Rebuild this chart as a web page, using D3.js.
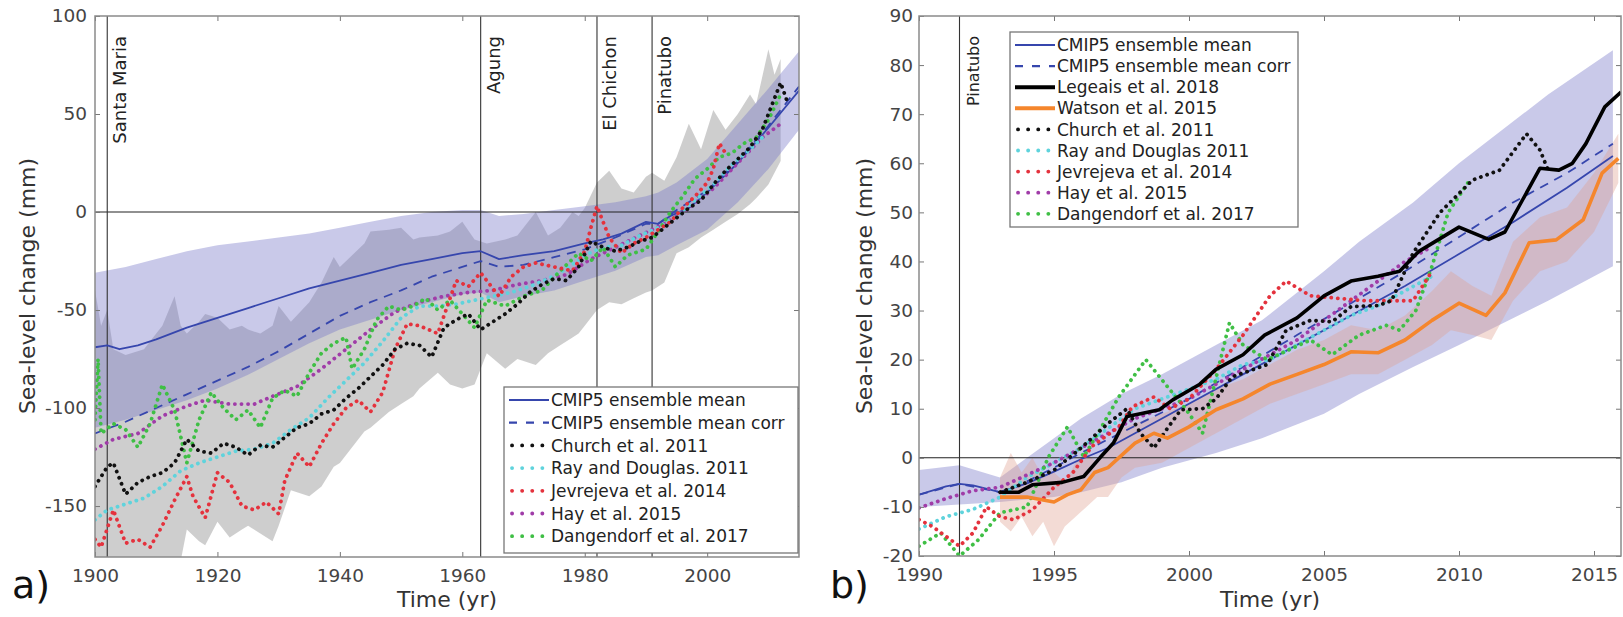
<!DOCTYPE html>
<html>
<head>
<meta charset="utf-8">
<script src="https://cdn.jsdelivr.net/npm/d3@7"></script>
<style>
  body { margin: 0; background: #fff; }
  text { font-family: "DejaVu Sans", sans-serif; }
</style>
</head>
<body>
<script>
// ---- panel a data: [year, mm] ----
const cmipMeanA = [[1900,-69],[1902,-68],[1904,-70],[1907,-68],[1910,-65],[1915,-59],[1920,-54],[1925,-49],[1930,-44],[1935,-39],[1940,-35],[1945,-31],[1950,-27],[1955,-24],[1960,-21],[1963,-20],[1966,-24],[1970,-22],[1975,-20],[1980,-16],[1983,-14],[1986,-11],[1990,-5],[1992,-6],[1994,-2],[1997,2],[2000,10],[2005,25],[2010,43],[2015,62]];
const cmipCorrA = [[1900,-113],[1905,-107],[1910,-100],[1915,-93],[1920,-86],[1925,-79],[1930,-71],[1935,-62],[1940,-53],[1945,-46],[1950,-40],[1955,-33],[1960,-28],[1963,-25],[1966,-28],[1970,-27],[1975,-23],[1980,-19],[1985,-13],[1990,-6],[1992,-6],[1995,1],[2000,11],[2005,26],[2010,44],[2015,64]];
// [year, lower, upper]
const cmipBandA = [[1900,-110,-31],[1905,-106,-28],[1910,-101,-24],[1915,-96,-20],[1920,-90,-17],[1925,-83,-15],[1930,-75,-13],[1935,-67,-11],[1940,-60,-8],[1945,-55,-5],[1950,-50,-2],[1955,-46,0],[1960,-42,1],[1963,-41,1],[1966,-46,-2],[1970,-43,-1],[1975,-40,1],[1980,-35,3],[1985,-30,5],[1990,-23,8],[1992,-22,10],[1995,-17,15],[2000,-9,27],[2005,5,45],[2010,22,63],[2015,42,82]];
const obsBandA = [[1900,-190,-40],[1901,-190,-58],[1902,-190,-50],[1903,-190,-70],[1905,-188,-73],[1908,-185,-70],[1910,-182,-62],[1911,-182,-58],[1913,-185,-43],[1914,-178,-58],[1915,-162,-62],[1917,-168,-56],[1918,-170,-52],[1920,-158,-54],[1922,-166,-60],[1924,-162,-58],[1925,-160,-60],[1927,-164,-62],[1929,-168,-58],[1930,-160,-48],[1932,-142,-56],[1935,-145,-46],[1937,-140,-36],[1939,-130,-23],[1940,-128,-28],[1942,-120,-22],[1944,-112,-16],[1945,-110,-10],[1948,-102,-9],[1950,-98,-8],[1952,-94,-14],[1953,-90,-13],[1956,-82,-12],[1958,-88,-10],[1960,-90,-5],[1962,-88,-14],[1964,-72,-16],[1967,-80,-14],[1969,-75,-12],[1972,-78,0],[1974,-72,-12],[1976,-68,-8],[1978,-64,0],[1979,-62,-2],[1980,-58,2],[1982,-50,15],[1984,-46,21],[1986,-47,12],[1988,-44,10],[1990,-41,18],[1991,-40,20],[1993,-36,16],[1995,-21,28],[1997,-18,45],[1999,-13,32],[2001,-9,52],[2003,-5,42],[2005,-1,50],[2007,4,60],[2008,7,55],[2010,14,83],[2011,20,70],[2012,26,78]];
const churchA = [[1900,-140],[1902,-130],[1903,-128],[1905,-144],[1907,-138],[1909,-135],[1911,-133],[1913,-128],[1915,-116],[1917,-122],[1919,-123],[1921,-118],[1923,-120],[1925,-124],[1927,-119],[1929,-120],[1931,-115],[1933,-110],[1935,-108],[1937,-103],[1939,-101],[1941,-95],[1943,-90],[1945,-84],[1947,-78],[1949,-70],[1951,-67],[1953,-68],[1955,-74],[1957,-59],[1959,-55],[1961,-52],[1963,-60],[1965,-56],[1967,-52],[1969,-47],[1971,-41],[1973,-37],[1975,-34],[1977,-35],[1979,-28],[1981,-15],[1983,-18],[1985,-20],[1987,-18],[1989,-15],[1991,-13],[1993,-8],[1995,-3],[1997,2],[1999,6],[2001,14],[2003,21],[2005,27],[2007,33],[2009,42],[2011,58],[2012,66],[2013,57]];
const rayA = [[1900,-157],[1902,-152],[1905,-149],[1908,-146],[1911,-140],[1914,-132],[1917,-128],[1920,-125],[1923,-122],[1926,-121],[1929,-118],[1932,-111],[1935,-105],[1938,-95],[1941,-86],[1944,-77],[1947,-66],[1950,-54],[1953,-48],[1956,-48],[1959,-47],[1962,-45],[1965,-43],[1968,-41],[1971,-38],[1974,-34],[1977,-29],[1980,-22],[1983,-18],[1986,-17],[1989,-12],[1992,-8],[1995,-2],[1998,6],[2001,14],[2004,24],[2007,32],[2009,38]];
const jevrejevaA = [[1900,-167],[1901,-171],[1903,-152],[1905,-169],[1907,-167],[1909,-171],[1911,-160],[1913,-147],[1915,-135],[1916,-145],[1918,-156],[1920,-133],[1922,-138],[1924,-150],[1926,-152],[1928,-148],[1930,-154],[1931,-137],[1933,-123],[1935,-130],[1937,-118],[1939,-108],[1941,-100],[1943,-96],[1945,-102],[1947,-92],[1949,-70],[1951,-57],[1953,-58],[1956,-62],[1959,-35],[1961,-38],[1963,-31],[1966,-43],[1968,-33],[1970,-28],[1972,-26],[1975,-28],[1978,-30],[1980,-20],[1981,-8],[1982,3],[1984,-13],[1986,-21],[1988,-16],[1990,-13],[1992,-9],[1994,-5],[1996,2],[1998,8],[2000,15],[2001,22],[2002,35],[2003,30]];
const hayA = [[1900,-121],[1903,-116],[1907,-113],[1911,-104],[1915,-99],[1918,-96],[1922,-98],[1926,-98],[1929,-94],[1933,-89],[1937,-80],[1941,-70],[1945,-60],[1949,-51],[1953,-46],[1957,-43],[1961,-41],[1965,-40],[1969,-37],[1973,-35],[1977,-32],[1981,-24],[1985,-18],[1989,-12],[1993,-6],[1997,2],[2001,12],[2005,25],[2009,38],[2012,45]];
const dangendorfA = [[1900,-106],[1900.5,-75],[1901,-113],[1903,-108],[1905,-111],[1907,-120],[1909,-108],[1911,-88],[1913,-101],[1915,-128],[1917,-106],[1919,-92],[1921,-100],[1923,-106],[1925,-101],[1927,-110],[1929,-95],[1931,-91],[1933,-94],[1935,-82],[1937,-72],[1939,-67],[1941,-64],[1942,-80],[1944,-70],[1946,-55],[1948,-48],[1950,-50],[1952,-48],[1954,-44],[1956,-50],[1958,-45],[1960,-52],[1962,-59],[1964,-45],[1967,-48],[1970,-43],[1973,-40],[1976,-30],[1979,-21],[1981,-25],[1983,-18],[1985,-28],[1987,-22],[1990,-19],[1992,-10],[1994,0],[1996,8],[1998,17],[2000,22],[2002,28],[2004,30],[2006,35],[2008,38],[2010,47],[2012,60]];

// ---- panel b data ----
const cmipMeanB = [[1990,-7.5],[1991,-5.8],[1991.5,-5.3],[1992,-5.6],[1993,-7],[1994,-5.2],[1995,-2.8],[1996,-0.3],[1997,2],[1998,5],[1999,8],[2000,11],[2002,17],[2004,23],[2006,29],[2008,35],[2010,41.5],[2012,48],[2014,55],[2015.7,61.5]];
const cmipCorrB = [[1990,-7.5],[1991.5,-5.3],[1993,-7],[1994,-4.8],[1995,-2],[1996,1],[1998,6.5],[2000,12],[2002,18.5],[2004,25],[2006,31.5],[2008,38],[2010,45],[2012,52],[2014,58],[2015.7,64]];
const cmipBandB = [[1990,-10,-2.5],[1991.5,-9.5,-1.5],[1993,-9,-4],[1994,-8.5,0],[1995,-8,4],[1996,-7,8],[1997.5,-5,13],[1999,-2,17],[2001,1,23],[2002.7,4,28],[2005,9,38],[2006.3,13,44],[2008.3,18.5,52],[2010,23,60],[2013.3,32,74],[2015.7,39,83]];
const watsonBandB = [[1993,-13,-4],[1993.4,-15,1],[1993.8,-12,-3],[1994.2,-16,0],[1994.6,-13,-4],[1995,-18,-3],[1995.4,-14,-5],[1995.8,-12,-1],[1996.2,-10,1],[1996.6,-8,-1],[1997,-8,2],[1997.5,-4,6],[1998,-2,7],[1999,-1,9],[2000,2,11],[2001,5,14],[2002,8,16],[2003,11,19],[2004,13,22],[2005,15,24],[2006,17,27],[2007,17,26],[2008,20,29],[2009,23,34],[2009.7,26,38],[2010.5,25,35],[2011.2,24,33],[2012,32,44],[2013,38,49],[2014,40,51],[2015,46,58],[2015.9,56,66]];
const legeaisB = [[1993,-7],[1993.7,-7],[1994.2,-5.5],[1995.3,-5],[1996.1,-3.8],[1996.7,0],[1997.2,3],[1997.7,8.4],[1998.2,9],[1998.9,9.8],[1999.4,11.8],[2000.4,15],[2001,18],[2002,21],[2002.8,25],[2004,28.5],[2005,33],[2006,36],[2007,37],[2007.8,38],[2008.5,42],[2010,47],[2011.1,44.5],[2011.7,46],[2012.7,56],[2013,59],[2013.7,58.6],[2014.2,60],[2014.7,64],[2015.4,71.5],[2016,74.5]];
const watsonB = [[1993,-8],[1994,-8],[1995,-9],[1995.5,-7.5],[1996,-6.5],[1996.5,-3],[1997,-2],[1998,3],[1998.7,5],[1999.2,4],[2000,6.3],[2001,9.8],[2002,12],[2003,15],[2004,17],[2005,19],[2006,21.6],[2007,21.4],[2008,24],[2009,28],[2010,31.5],[2011,29],[2011.7,33.6],[2012.6,43.8],[2013.6,44.4],[2014.6,48.5],[2015.3,58],[2015.9,61]];
const churchB = [[1993,-7],[1994,-5],[1995,-2.5],[1996,2],[1997,7],[1997.7,10],[1998.2,5],[1998.7,2],[1999.2,6],[1999.7,9.8],[2000.5,10],[2001,12],[2001.6,16.5],[2002.9,19],[2003.6,26],[2004.5,28],[2005.3,27.7],[2006,30.8],[2007,31],[2007.5,32],[2008.3,41.7],[2009.3,50],[2010.5,56.6],[2011.5,58.6],[2012.5,66],[2013,62.7],[2013.3,58.6]];
const rayB = [[1990,-14.5],[1991,-12],[1992,-10.5],[1993,-8],[1994,-4],[1995,-1],[1996,2],[1997,6],[1998,10],[1999,12],[2000,14],[2001,16],[2002,19],[2003,20],[2004,23],[2005,26],[2006,29],[2007,31],[2008,34],[2009,37]];
const jevrejevaB = [[1990,-12.6],[1990.5,-14],[1991,-16],[1991.5,-18],[1992,-15.3],[1992.5,-10],[1993,-12],[1993.5,-12.6],[1994.2,-10.6],[1995,-6],[1995.7,-3],[1996.4,2.3],[1997.4,6.3],[1997.9,10.4],[1998.7,12.4],[1999.3,10],[2000,12],[2001,18],[2002,25],[2003,33],[2003.6,36],[2004.5,33],[2005.5,32.5],[2006.5,32],[2007.5,32],[2008.3,32],[2009,38]];
const hayB = [[1990,-10.2],[1991,-8.3],[1992,-6.7],[1993,-6],[1994,-3.5],[1995,-1],[1996,2],[1997,5],[1998,8],[1999,10],[2000,12],[2001,15],[2002,18],[2003,21],[2004,24],[2005,28],[2006,32],[2007,36],[2008,40],[2009,43]];
const dangendorfB = [[1990,-18],[1990.8,-15.3],[1991.5,-20],[1992.2,-16.7],[1993,-11.2],[1994,-10],[1994.8,0.2],[1995.5,6.3],[1996.1,0.2],[1996.7,5.7],[1997.4,12.4],[1998.4,20],[1999.2,14.5],[1999.9,9.8],[2000.5,5],[2001.5,27.5],[2002,23],[2002.9,20],[2003.7,22],[2004.5,24],[2005.3,21],[2006.3,25],[2007.3,27],[2007.8,26],[2008.4,30],[2009,39],[2009.6,50],[2010.4,56.6]];

// ---- ticks, events, legend labels ----
const xTicksA = [1900, 1920, 1940, 1960, 1980, 2000];
const yTicksA = [-150, -100, -50, 0, 50, 100];
const xTicksB = [1990, 1995, 2000, 2005, 2010, 2015];
const yTicksB = [-20, -10, 0, 10, 20, 30, 40, 50, 60, 70, 80, 90];
const eventsA = [["Santa Maria", 1902], ["Agung", 1963], ["El Chichon", 1982], ["Pinatubo", 1991]];
const eventsB = [["Pinatubo", 1991.5]];
const legendA = ["CMIP5 ensemble mean", "CMIP5 ensemble mean corr", "Church et al. 2011", "Ray and Douglas. 2011", "Jevrejeva et al. 2014", "Hay et al. 2015", "Dangendorf et al. 2017"];
const legendB = ["CMIP5 ensemble mean", "CMIP5 ensemble mean corr", "Legeais et al. 2018", "Watson et al. 2015", "Church et al. 2011", "Ray and Douglas 2011", "Jevrejeva et al. 2014", "Hay et al. 2015", "Dangendorf et al. 2017"];

// line styles
const dotted = (c) => ({ c: c, w: 3.8, dash: "0.1,6.5", cap: "round", legDash: "0.1,10" });
const sMean = { c: "#3646ad", w: 1.8 };
const sCorr = { c: "#3646ad", w: 1.8, dash: "9,7", legDash: "8,9" };
const sLegeais = { c: "#000", w: 3.6 };
const sWatson = { c: "#f5862c", w: 3.6 };
const sChurch = dotted("#111");
const sRay = dotted("#5fd3dc");
const sJev = dotted("#e4323d");
const sHay = dotted("#a03ca8");
const sDang = dotted("#3fbf45");

const svg = d3.select("body").append("svg")
  .attr("width", 1623)
  .attr("height", 617);

function makePanel(id, xDomain, xRange, yDomain, yRange) {
  const x = d3.scaleLinear().domain(xDomain).range(xRange);
  const y = d3.scaleLinear().domain(yDomain).range(yRange);
  svg.append("clipPath").attr("id", "clip" + id)
    .append("rect")
    .attr("x", xRange[0]).attr("y", yRange[1])
    .attr("width", xRange[1] - xRange[0]).attr("height", yRange[0] - yRange[1]);
  const g = svg.append("g").attr("clip-path", "url(#clip" + id + ")");
  return { x, y, g };
}

function band(p, data, fill, op) {
  p.g.append("path").datum(data)
    .attr("d", d3.area().x(d => p.x(d[0])).y0(d => p.y(d[1])).y1(d => p.y(d[2])))
    .attr("fill", fill)
    .attr("fill-opacity", op);
}

function line(p, data, s) {
  p.g.append("path").datum(data)
    .attr("d", d3.line().x(d => p.x(d[0])).y(d => p.y(d[1])))
    .attr("fill", "none")
    .attr("stroke", s.c)
    .attr("stroke-width", s.w)
    .attr("stroke-dasharray", s.dash || null)
    .attr("stroke-linecap", s.cap || "butt")
    .attr("stroke-linejoin", "round");
}

function refLines(p, events, fs) {
  const [l, r] = p.x.range();
  const [b, t] = p.y.range();
  p.g.append("line")
    .attr("x1", l).attr("x2", r).attr("y1", p.y(0)).attr("y2", p.y(0))
    .attr("stroke", "#222").attr("stroke-width", 1.1);
  events.forEach(e => {
    const ex = p.x(e[1]);
    p.g.append("line")
      .attr("x1", ex).attr("x2", ex).attr("y1", t).attr("y2", b)
      .attr("stroke", "#333").attr("stroke-width", 1.1);
    svg.append("text")
      .attr("transform", "translate(" + (ex + 19) + "," + (t + 20) + ") rotate(-90)")
      .attr("text-anchor", "end")
      .attr("font-size", fs)
      .attr("fill", "#222")
      .text(e[0]);
  });
}

function axes(p, xTicks, yTicks, yPad) {
  const [l, r] = p.x.range();
  const [b, t] = p.y.range();
  const fmt = d => String(d);   // plain hyphen minus, no thousands comma
  const ax = [
    [d3.axisBottom(p.x).tickValues(xTicks).tickFormat(fmt), b, "x"],
    [d3.axisTop(p.x).tickValues(xTicks).tickFormat(""), t, "x"],
    [d3.axisLeft(p.y).tickValues(yTicks).tickFormat(fmt), l, "y"],
    [d3.axisRight(p.y).tickValues(yTicks).tickFormat(""), r, "y"]
  ];
  ax.forEach(a => {
    a[0].tickSizeInner(-5).tickSizeOuter(0).tickPadding(a[2] === "x" ? 12 : yPad);
    const g = svg.append("g")
      .attr("transform", a[2] === "x" ? "translate(0," + a[1] + ")" : "translate(" + a[1] + ",0)")
      .call(a[0]);
    g.select(".domain").remove();
    g.selectAll(".tick line").attr("stroke", "#777");
    g.selectAll(".tick text")
      .attr("fill", "#444")
      .attr("font-size", 18.5)
      .attr("font-family", "'DejaVu Sans', sans-serif");
  });
  svg.append("rect")
    .attr("x", l).attr("y", t).attr("width", r - l).attr("height", b - t)
    .attr("fill", "none").attr("stroke", "#8a8a8a").attr("stroke-width", 1.5);
}

function legend(x0, y0, w, h, rowY, rowH, labels, styles) {
  svg.append("rect")
    .attr("x", x0).attr("y", y0).attr("width", w).attr("height", h)
    .attr("fill", "#fff").attr("stroke", "#777").attr("stroke-width", 1.3);
  labels.forEach((lab, i) => {
    const s = styles[i];
    const cy = rowY + i * rowH;
    const dots = s.cap === "round";
    svg.append("line")
      .attr("x1", x0 + (dots ? 8 : 5)).attr("x2", x0 + (dots ? 40 : 45))
      .attr("y1", cy).attr("y2", cy)
      .attr("stroke", s.c)
      .attr("stroke-width", dots ? 3.8 : s.w + 0.4)
      .attr("stroke-dasharray", s.legDash || null)
      .attr("stroke-linecap", s.cap || "butt");
    svg.append("text")
      .attr("x", x0 + 47).attr("y", cy).attr("dy", "0.36em")
      .attr("font-size", 17).attr("fill", "#222")
      .text(lab);
  });
}

function labels(p, yX, panelTag, tagX) {
  const [l, r] = p.x.range();
  svg.append("text")
    .attr("transform", "translate(" + yX + ",286) rotate(-90)")
    .attr("text-anchor", "middle")
    .attr("font-size", 22).attr("fill", "#333")
    .text("Sea-level change (mm)");
  svg.append("text")
    .attr("x", (l + r) / 2).attr("y", 607)
    .attr("text-anchor", "middle")
    .attr("font-size", 22).attr("fill", "#333")
    .text("Time (yr)");
  svg.append("text")
    .attr("x", tagX).attr("y", 598)
    .attr("font-size", 38).attr("fill", "#111")
    .text(panelTag);
}

// ---- panel a ----
const pa = makePanel("a", [1900, 2015], [95, 799], [-176, 100], [557, 16]);
band(pa, obsBandA, "#c6c6c6", 0.85);
band(pa, cmipBandA, "#7878c8", 0.4);
refLines(pa, eventsA, 18);
line(pa, cmipMeanA, sMean);
line(pa, cmipCorrA, sCorr);
line(pa, hayA, sHay);
line(pa, rayA, sRay);
line(pa, dangendorfA, sDang);
line(pa, jevrejevaA, sJev);
line(pa, churchA, sChurch);
axes(pa, xTicksA, yTicksA, 8);
legend(504, 387, 294, 166, 400, 22.7, legendA, [sMean, sCorr, sChurch, sRay, sJev, sHay, sDang]);
labels(pa, 35, "a)", 12);

// ---- panel b ----
const pb = makePanel("b", [1990, 2016], [919, 1621], [-20, 90], [556, 16]);
band(pb, cmipBandB, "#7878c8", 0.4);
band(pb, watsonBandB, "#e0a090", 0.38);
refLines(pb, eventsB, 16);
line(pb, cmipMeanB, sMean);
line(pb, cmipCorrB, sCorr);
line(pb, rayB, sRay);
line(pb, hayB, sHay);
line(pb, dangendorfB, sDang);
line(pb, jevrejevaB, sJev);
line(pb, churchB, sChurch);
line(pb, watsonB, sWatson);
line(pb, legeaisB, sLegeais);
axes(pb, xTicksB, yTicksB, 6);
legend(1010, 32, 288, 195, 45, 21.1, legendB, [sMean, sCorr, sLegeais, sWatson, sChurch, sRay, sJev, sHay, sDang]);
labels(pb, 872, "b)", 830);
</script>
</body>
</html>
